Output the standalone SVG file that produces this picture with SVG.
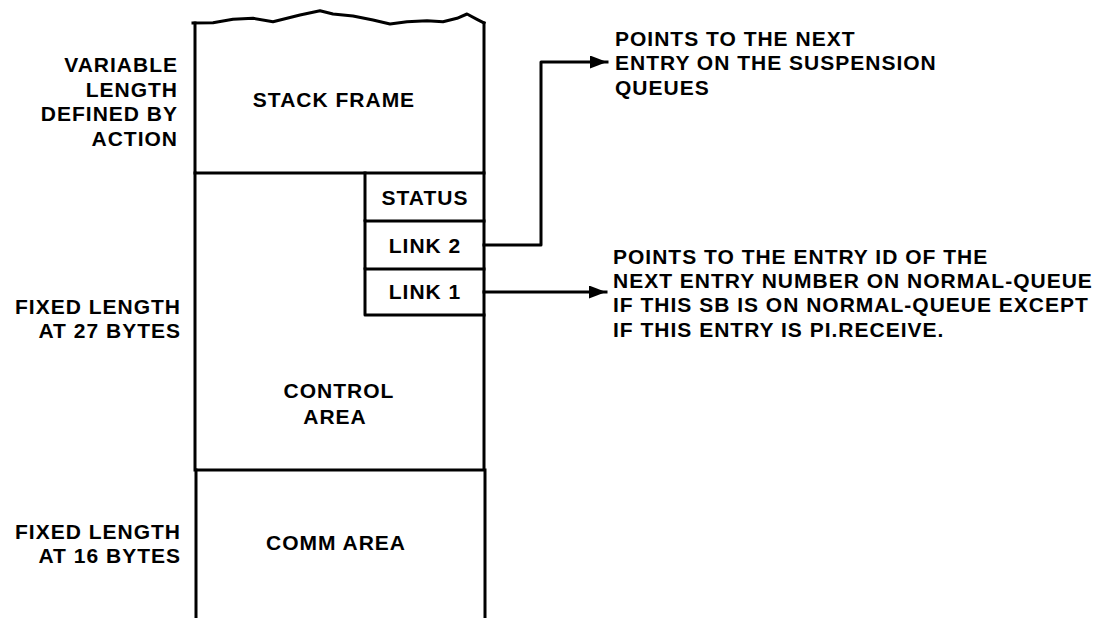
<svg xmlns="http://www.w3.org/2000/svg" width="1113" height="618" viewBox="0 0 1113 618">
  <style>
    .ln { fill: none; stroke: #000; stroke-width: 3; stroke-linejoin: round; stroke-linecap: square; }
    .t { font-family: "Liberation Sans", Arial, Helvetica, sans-serif; font-weight: bold; font-size: 21px; letter-spacing: 1px; fill: #000; }
    .r { text-anchor: end; }
    .m { text-anchor: middle; }
  </style>
  <defs>
    <marker id="arrow" viewBox="0 0 17 13" refX="17" refY="6.5" markerWidth="17" markerHeight="13" markerUnits="userSpaceOnUse" orient="auto">
      <path d="M0,0 L17,6.5 L0,13 Z" fill="#000"/>
    </marker>
  </defs>
  <rect width="1113" height="618" fill="#fff"/>

  <!-- stack frame: torn top edge, open-ended variable region -->
  <g id="stack-frame">
    <path class="ln" d="M193,23 L213,22.7 L233,19.3 L253,18.3 L273,21.7 L287,18.3 L300,15 L320,10.7 L333,14 L353,16 L373,20 L390,24 L407,21.7 L427,20.7 L443,21.7 L457,18.3 L467,14 L477,19.3 L484,23"/>
    <path class="ln" d="M195,23 L195,173 M484,23 L484,173 M195,173 L484,173"/>
    <text class="t m" x="334" y="107">STACK FRAME</text>
  </g>

  <!-- control area -->
  <g id="control-area">
    <path class="ln" d="M195,173 L195,470 M484,173 L484,470 M195,470 L484,470"/>
    <text class="t m" x="339" y="398">CONTROL</text>
    <text class="t m" x="335" y="424">AREA</text>
  </g>

  <!-- status / link fields inside the control area -->
  <g id="status">
    <path class="ln" d="M365,173 L365,221 L484,221"/>
    <text class="t m" x="425" y="205">STATUS</text>
  </g>
  <g id="link2">
    <path class="ln" d="M365,221 L365,269 L484,269"/>
    <text class="t m" x="425" y="253">LINK 2</text>
  </g>
  <g id="link1">
    <path class="ln" d="M365,269 L365,315 L484,315"/>
    <text class="t m" x="425" y="299">LINK 1</text>
  </g>

  <!-- comm area, open at the bottom -->
  <g id="comm-area">
    <path class="ln" d="M196,470 L196,620 M485,470 L485,620"/>
    <text class="t m" x="336" y="550">COMM AREA</text>
  </g>

  <!-- size annotations on the left -->
  <g id="label-variable">
    <text class="t r" x="178" y="72">VARIABLE</text>
    <text class="t r" x="178" y="97">LENGTH</text>
    <text class="t r" x="178" y="121">DEFINED BY</text>
    <text class="t r" x="178" y="146">ACTION</text>
  </g>
  <g id="label-fixed27">
    <text class="t r" x="181" y="314">FIXED LENGTH</text>
    <text class="t r" x="181" y="338">AT 27 BYTES</text>
  </g>
  <g id="label-fixed16">
    <text class="t r" x="181" y="539">FIXED LENGTH</text>
    <text class="t r" x="181" y="563">AT 16 BYTES</text>
  </g>

  <!-- pointer descriptions -->
  <g id="note-link2">
    <text class="t" x="615" y="46">POINTS TO THE NEXT</text>
    <text class="t" x="615" y="70">ENTRY ON THE SUSPENSION</text>
    <text class="t" x="615" y="95">QUEUES</text>
  </g>
  <g id="note-link1">
    <text class="t" x="613" y="264">POINTS TO THE ENTRY ID OF THE</text>
    <text class="t" x="613" y="288">NEXT ENTRY NUMBER ON NORMAL-QUEUE</text>
    <text class="t" x="613" y="312">IF THIS SB IS ON NORMAL-QUEUE EXCEPT</text>
    <text class="t" x="613" y="337">IF THIS ENTRY IS PI.RECEIVE.</text>
  </g>

  <!-- connectors -->
  <g id="connectors">
    <path class="ln" d="M484,245 L541,245 L541,62 L607,62" marker-end="url(#arrow)"/>
    <path class="ln" d="M484,292 L606,292" marker-end="url(#arrow)"/>
  </g>
</svg>
